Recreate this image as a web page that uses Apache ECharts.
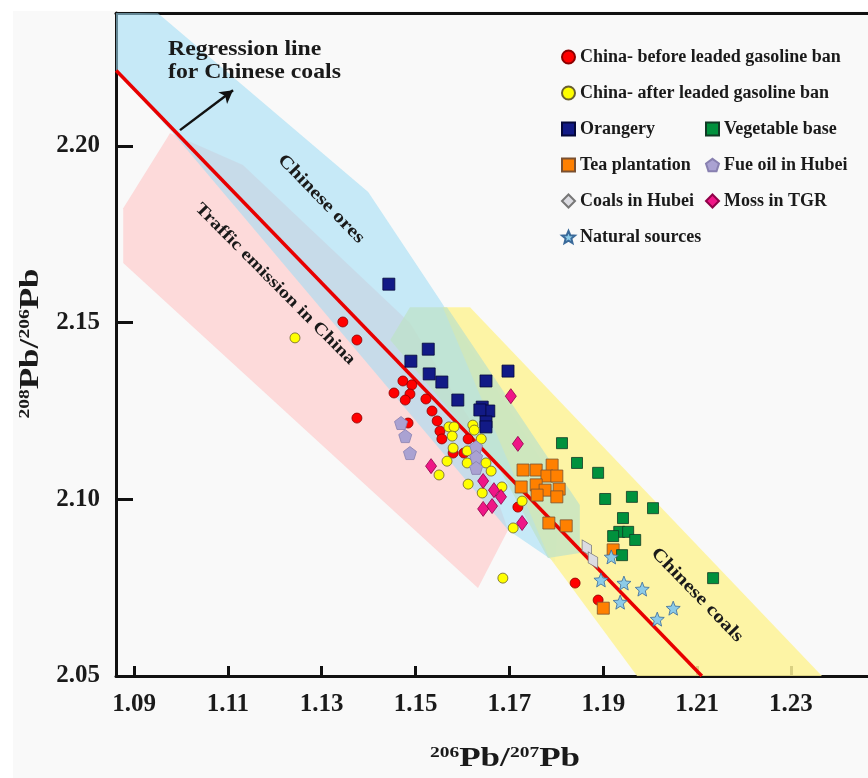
<!DOCTYPE html>
<html><head><meta charset="utf-8">
<script src="https://cdn.jsdelivr.net/npm/echarts@6/dist/echarts.min.js"></script>
<style>html,body{margin:0;padding:0;background:#fff}#c{width:868px;height:778px}</style>
</head><body><div id="c"></div>
<script>
// ---- axis ticks ----
const xTicks = [1.09, 1.11, 1.13, 1.15, 1.17, 1.19, 1.21, 1.23];
const yTicks = [2.05, 2.10, 2.15, 2.20];

// ---- data series (206Pb/207Pb, 208Pb/206Pb) ----
const chinaBefore = [[1.1345,2.1502],[1.1375,2.1451],[1.1375,2.1230],[1.1473,2.1335],[1.1492,2.1324],[1.1454,2.1301],[1.1488,2.1298],[1.1478,2.1281],[1.1522,2.1284],[1.1535,2.1250],[1.1546,2.1222],[1.1552,2.1193],[1.1556,2.1171],[1.1484,2.1216],[1.1612,2.1171],[1.1580,2.1131],[1.1603,2.1131],[1.1718,2.0978],[1.1840,2.0763],[1.1889,2.0715]];
const chinaAfter = [[1.1243,2.1457],[1.1571,2.1205],[1.1582,2.1205],[1.1578,2.1179],[1.1622,2.1210],[1.1625,2.1196],[1.1640,2.1171],[1.1580,2.1145],[1.1610,2.1137],[1.1567,2.1108],[1.1610,2.1103],[1.1650,2.1103],[1.1661,2.1080],[1.1550,2.1069],[1.1612,2.1043],[1.1642,2.1018],[1.1684,2.1035],[1.1727,2.0995],[1.1708,2.0919],[1.1686,2.0777]];
const orangery = [[1.1443,2.1609],[1.1527,2.1425],[1.1490,2.1391],[1.1529,2.1355],[1.1556,2.1332],[1.1650,2.1335],[1.1697,2.1363],[1.1590,2.1281],[1.1642,2.1261],[1.1656,2.1250],[1.1637,2.1253],[1.1650,2.1219],[1.1650,2.1205]];
const vegetableBase = [[1.1812,2.1159],[1.1844,2.1103],[1.1889,2.1075],[1.1904,2.1001],[1.1961,2.1007],[1.2006,2.0975],[1.1942,2.0947],[1.1934,2.0908],[1.1953,2.0908],[1.1921,2.0896],[1.1968,2.0885],[1.1940,2.0842],[1.2134,2.0777]];
const teaPlantation = [[1.1729,2.1083],[1.1757,2.1083],[1.1791,2.1097],[1.1780,2.1066],[1.1801,2.1066],[1.1725,2.1035],[1.1757,2.1041],[1.1776,2.1026],[1.1759,2.1012],[1.1806,2.1029],[1.1801,2.1007],[1.1784,2.0933],[1.1821,2.0925],[1.1921,2.0857],[1.1900,2.0692]];
const fuelOilHubei = [[1.1469,2.1216],[1.1478,2.1179],[1.1488,2.1131],[1.1629,2.1148],[1.1629,2.1120],[1.1629,2.1089]];
const coalsHubei = [[1.1865,2.0862],[1.1878,2.0828]];
const mossTGR = [[1.1533,2.1094],[1.1703,2.1292],[1.1718,2.1157],[1.1644,2.1052],[1.1667,2.1026],[1.1682,2.1007],[1.1663,2.0981],[1.1644,2.0973],[1.1727,2.0933]];
const naturalSources = [[1.1917,2.0837],[1.1895,2.0772],[1.1944,2.0763],[1.1983,2.0746],[1.1936,2.0709],[1.2049,2.0692],[1.2015,2.0661]];

// ---- regression line & arrow ----
const regressionLine = [[1.0862,2.2214],[1.2110,2.05]];
const arrowLine = [[1.0998,2.2045],[1.1111,2.2158]];

// ---- shaded source fields ----
const chineseOres = [[1.0860,2.2377],[1.0951,2.2376],[1.1399,2.1870],[1.1552,2.1564],[1.1808,2.1026],[1.1797,2.0823],[1.1697,2.0913],[1.0981,2.2040],[1.0860,2.2215]];
const trafficEmission = [[1.0877,2.1824],[1.0977,2.2037],[1.1132,2.1946],[1.1488,2.1499],[1.1616,2.1225],[1.1697,2.0913],[1.1633,2.0749],[1.0877,2.1669]];
const chineseCoalsField = [[1.1558,2.1544],[1.1616,2.1544],[1.2366,2.05],[1.1972,2.05],[1.1782,2.0842]];
const greenField = [[1.1488,2.1544],[1.1567,2.1544],[1.1850,2.0984],[1.1850,2.0848],[1.1782,2.0834],[1.1680,2.1083],[1.1446,2.1451]];

const F = "'Liberation Serif','Times New Roman',serif";
const TXT = '#1a1a1a';
const X_MIN = 1.08616, X_MAX = 1.24641, Y_MIN = 2.05, Y_MAX = 2.23765;

function poly(name, pts, fill, z) {
  return {
    type: 'custom', name: name, silent: true, clip: true, z: z, data: [0],
    renderItem: function (params, api) {
      return { type: 'polygon', shape: { points: pts.map(function (q) { return api.coord(q); }) }, style: { fill: fill } };
    }
  };
}
const pentagon = 'path://M0,-1L0.951,-0.309L0.588,0.809L-0.588,0.809L-0.951,-0.309Z';
const star = 'path://M0,-1L0.26,-0.36L0.951,-0.309L0.42,0.137L0.588,0.809L0,0.44L-0.588,0.809L-0.42,0.137L-0.951,-0.309L-0.26,-0.36Z';

const chart = echarts.init(document.getElementById('c'), null, { renderer: 'canvas' });
chart.setOption({
  animation: false,
  backgroundColor: '#f9f9f9',
  textStyle: { fontFamily: F },
  grid: { left: 116, right: 0, top: 13, bottom: 102, show: false },
  xAxis: [{
    type: 'value', min: X_MIN, max: X_MAX,
    axisLine: { show: true, onZero: false, lineStyle: { color: '#111', width: 3 } },
    axisTick: { show: true, inside: true, length: 10, customValues: xTicks, lineStyle: { color: '#111', width: 3 } },
    axisLabel: { customValues: xTicks, formatter: function (v) { return v.toFixed(2); }, fontSize: 25, fontWeight: 'bold', fontFamily: F, color: TXT, margin: 16 },
    splitLine: { show: false }
  }, {
    type: 'value', position: 'top', min: X_MIN, max: X_MAX,
    axisLine: { show: true, onZero: false, lineStyle: { color: '#111', width: 3 } },
    axisTick: { show: false }, axisLabel: { show: false }, splitLine: { show: false }
  }],
  yAxis: {
    type: 'value', min: Y_MIN, max: Y_MAX,
    axisLine: { show: true, onZero: false, lineStyle: { color: '#111', width: 3 } },
    axisTick: { show: true, inside: true, length: 17, customValues: yTicks, lineStyle: { color: '#111', width: 3 } },
    axisLabel: { customValues: yTicks, formatter: function (v) { return v.toFixed(2); }, fontSize: 25, fontWeight: 'bold', fontFamily: F, color: TXT, margin: 16 },
    splitLine: { show: false }
  },
  legend: [
    {
      orient: 'vertical', left: 561, top: 47, padding: 0, itemWidth: 13, itemHeight: 13, itemGap: 16, selectedMode: false,
      textStyle: { fontFamily: F, fontWeight: 'bold', fontSize: 18, color: TXT, lineHeight: 20 },
      data: ['China- before leaded gasoline ban', 'China- after leaded gasoline ban', 'Orangery', 'Tea plantation', 'Coals in Hubei', 'Natural sources']
    },
    {
      orient: 'vertical', left: 705, top: 119, padding: 0, itemWidth: 13, itemHeight: 13, itemGap: 16, selectedMode: false,
      textStyle: { fontFamily: F, fontWeight: 'bold', fontSize: 18, color: TXT, lineHeight: 20 },
      data: ['Vegetable base', 'Fue oil in Hubei', 'Moss in TGR']
    }
  ],
  series: [
    poly('pinkField', trafficEmission, 'rgba(255,196,196,0.6)', 1),
    poly('blueField', chineseOres, 'rgba(160,220,245,0.58)', 1),
    poly('yellowField', chineseCoalsField, 'rgba(254,243,150,0.85)', 1),
    poly('greenField', greenField, 'rgba(190,226,200,0.72)', 1),
    {
      type: 'line', name: 'regression', data: regressionLine, symbol: 'none', silent: true, z: 3,
      lineStyle: { color: '#e80000', width: 3.5 },
      markLine: {
        silent: true, symbol: ['none', 'arrow'], symbolSize: [11, 13], label: { show: false },
        lineStyle: { color: '#111', width: 2.5, type: 'solid' },
        data: [[{ coord: arrowLine[0] }, { coord: arrowLine[1] }]]
      }
    },
    { type: 'scatter', name: 'China- before leaded gasoline ban', data: chinaBefore, symbol: 'circle', symbolSize: 10, z: 5, itemStyle: { color: '#ff0000', borderColor: '#8a0000', borderWidth: 0.8, opacity: 1 } },
    { type: 'scatter', name: 'China- after leaded gasoline ban', data: chinaAfter, symbol: 'circle', symbolSize: 10, z: 5, itemStyle: { color: '#ffff00', borderColor: '#6a6030', borderWidth: 0.8, opacity: 1 } },
    { type: 'scatter', name: 'Orangery', data: orangery, symbol: 'rect', symbolSize: 12, z: 5, itemStyle: { color: '#121a86', borderColor: '#05083a', borderWidth: 0.8, opacity: 1 } },
    { type: 'scatter', name: 'Fue oil in Hubei', data: fuelOilHubei, symbol: pentagon, symbolSize: 13, z: 5, itemStyle: { color: '#aaa2d2', borderColor: '#8880b0', borderWidth: 0.8, opacity: 1 } },
    { type: 'scatter', name: 'Moss in TGR', data: mossTGR, symbol: 'diamond', symbolSize: [11, 15], z: 5, itemStyle: { color: '#ef1687', borderColor: '#900048', borderWidth: 0.8, opacity: 1 } },
    { type: 'scatter', name: 'Tea plantation', data: teaPlantation, symbol: 'rect', symbolSize: 12, z: 5, itemStyle: { color: '#ff8000', borderColor: '#7a5030', borderWidth: 0.8, opacity: 1 } },
    { type: 'scatter', name: 'Vegetable base', data: vegetableBase, symbol: 'rect', symbolSize: 11, z: 5, itemStyle: { color: '#00913d', borderColor: '#103a25', borderWidth: 0.8, opacity: 1 } },
    { type: 'scatter', name: 'Coals in Hubei', data: coalsHubei, symbol: 'diamond', symbolSize: [11, 19], symbolRotate: 30, z: 5, itemStyle: { color: '#dcdce2', borderColor: '#777', borderWidth: 0.8, opacity: 1 } },
    { type: 'scatter', name: 'Natural sources', data: naturalSources, symbol: star, symbolSize: 14, z: 6, itemStyle: { color: '#8ccbe8', borderColor: '#3a6a9a', borderWidth: 0.8, opacity: 1 } }
  ],
  graphic: [
    { type: 'rect', shape: { x: 0, y: 0, width: 868, height: 11 }, style: { fill: '#fff' }, z: 50 },
    { type: 'rect', shape: { x: 0, y: 0, width: 13, height: 778 }, style: { fill: '#fff' }, z: 50 },
    { type: 'text', x: 168, y: 38, scaleX: 1.08, z: 100, style: { text: 'Regression line\nfor Chinese coals', fontSize: 22, fontWeight: 'bold', fontFamily: F, fill: TXT, lineHeight: 23, align: 'left', verticalAlign: 'top' } },
    { type: 'text', x: 321, y: 199, rotation: -0.80, scaleX: 1.2, z: 100, style: { text: 'Chinese ores', fontSize: 18, fontWeight: 'bold', fontFamily: F, fill: TXT, align: 'center', verticalAlign: 'middle' } },
    { type: 'text', x: 275, y: 284, rotation: -0.79, scaleX: 1.2, z: 100, style: { text: 'Traffic emission in China', fontSize: 17, fontWeight: 'bold', fontFamily: F, fill: TXT, align: 'center', verticalAlign: 'middle' } },
    { type: 'text', x: 697, y: 595, rotation: -0.80, scaleX: 1.2, z: 100, style: { text: 'Chinese coals', fontSize: 18, fontWeight: 'bold', fontFamily: F, fill: TXT, align: 'center', verticalAlign: 'middle' } },
    { type: 'text', x: 505, y: 745.5, scaleX: 1.3, z: 100, style: {
        text: '{s|206}{b|Pb/}{s|207}{b|Pb}', fill: TXT, align: 'center', verticalAlign: 'top',
        rich: { s: { fontSize: 15, lineHeight: 15, verticalAlign: 'top', fontWeight: 'bold', fontFamily: F, fill: TXT },
                b: { fontSize: 27, lineHeight: 27, padding: [9, 0, 0, 0], verticalAlign: 'bottom', fontWeight: 'bold', fontFamily: F, fill: TXT } } } },
    { type: 'text', x: 31.5, y: 343.5, rotation: Math.PI / 2, scaleX: 1.3, z: 100, style: {
        text: '{s|208}{b|Pb/}{s|206}{b|Pb}', fill: TXT, align: 'center', verticalAlign: 'middle',
        rich: { s: { fontSize: 15, lineHeight: 15, verticalAlign: 'top', fontWeight: 'bold', fontFamily: F, fill: TXT },
                b: { fontSize: 27, lineHeight: 27, padding: [9, 0, 0, 0], verticalAlign: 'bottom', fontWeight: 'bold', fontFamily: F, fill: TXT } } } }
  ]
});
</script>
</body></html>
